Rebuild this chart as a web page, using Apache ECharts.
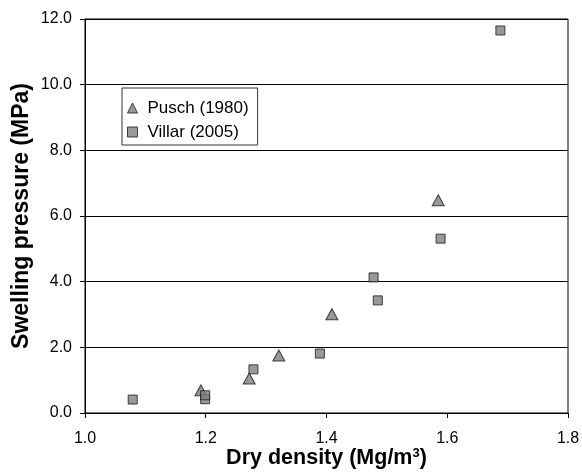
<!DOCTYPE html>
<html>
<head>
<meta charset="utf-8">
<script src="https://cdn.jsdelivr.net/npm/echarts@6/dist/echarts.min.js"></script>
<style>
  html, body { margin: 0; padding: 0; background: #fff; }
  #chart { width: 582px; height: 475px; }
</style>
</head>
<body>
<div id="chart"></div>
<script>
// Swelling pressure vs dry density, two data sources
const puschDensity  = [1.192, 1.272, 1.321, 1.409, 1.585];
const puschPressure = [0.69, 1.05, 1.75, 3.01, 6.48];

const villarDensity  = [1.079, 1.199, 1.199, 1.279, 1.389, 1.478, 1.485, 1.589, 1.688];
const villarPressure = [0.41, 0.42, 0.54, 1.33, 1.81, 4.13, 3.43, 5.31, 11.65];

const xTicks = [1.0, 1.2, 1.4, 1.6, 1.8];
const yTicks = [0, 2, 4, 6, 8, 10, 12];

const pair = (xs, ys) => xs.map((x, i) => [x, ys[i]]);

const FONT = 'Liberation Sans, Arial, sans-serif';
const markerStyle = { color: '#808080', borderColor: '#1a1a1a', borderWidth: 1 };

const chart = echarts.init(document.getElementById('chart'), null, { renderer: 'canvas' });

chart.setOption({
  animation: false,
  backgroundColor: '#ffffff',
  grid: {
    left: 85, right: 14, top: 19, bottom: 62,
    containLabel: false, outerBoundsMode: 'none',
    show: true, borderColor: '#000', borderWidth: 1
  },
  xAxis: {
    type: 'value',
    min: xTicks[0], max: xTicks[xTicks.length - 1], interval: 0.2,
    name: 'Dry density (Mg/m{sup|3})',
    nameLocation: 'middle', nameGap: 34, nameMoveOverlap: false,
    nameTextStyle: {
      fontFamily: FONT, fontWeight: 'bold', fontSize: 21.5, color: '#000',
      rich: { sup: { fontFamily: FONT, fontWeight: 'bold', fontSize: 13, verticalAlign: 'top', padding: [0, 0, 10, 0] } }
    },
    axisLine: { show: true, lineStyle: { color: '#000', width: 1 } },
    axisTick: { show: true, inside: false, length: 5, lineStyle: { color: '#000' } },
    axisLabel: { fontFamily: FONT, fontSize: 16, color: '#000', margin: 18, formatter: v => v.toFixed(1) },
    splitLine: { show: false }
  },
  yAxis: {
    type: 'value',
    min: yTicks[0], max: yTicks[yTicks.length - 1], interval: 2,
    name: 'Swelling pressure (MPa)',
    nameLocation: 'middle', nameGap: 52, nameMoveOverlap: false,
    nameTextStyle: { fontFamily: FONT, fontWeight: 'bold', fontSize: 23, color: '#000' },
    axisLine: { show: true, lineStyle: { color: '#000', width: 1 } },
    axisTick: { show: true, inside: false, length: 5, lineStyle: { color: '#000' } },
    axisLabel: { fontFamily: FONT, fontSize: 16, color: '#000', margin: 13, padding: [3, 0, 0, 0], formatter: v => v.toFixed(1) },
    splitLine: { show: true, lineStyle: { color: '#000', width: 1 } }
  },
  legend: {
    orient: 'vertical',
    left: 122, top: 88,
    padding: [11, 9, 4, 5],
    itemGap: 6,
    itemWidth: 10, itemHeight: 10,
    borderColor: '#333', borderWidth: 1, borderRadius: 0,
    backgroundColor: '#fff',
    textStyle: { fontFamily: FONT, fontSize: 17, lineHeight: 18, color: '#000', padding: [0, 0, 0, 5] },
    data: [
      { name: 'Pusch (1980)', icon: 'triangle', itemStyle: markerStyle },
      { name: 'Villar (2005)', icon: 'rect', itemStyle: markerStyle }
    ]
  },
  series: [
    {
      name: 'Pusch (1980)', type: 'scatter', symbol: 'triangle', symbolSize: [12, 11],
      itemStyle: markerStyle, data: pair(puschDensity, puschPressure), z: 3
    },
    {
      name: 'Villar (2005)', type: 'scatter', symbol: 'rect', symbolSize: 9,
      itemStyle: markerStyle, data: pair(villarDensity, villarPressure), z: 4
    }
  ]
});
</script>
</body>
</html>
